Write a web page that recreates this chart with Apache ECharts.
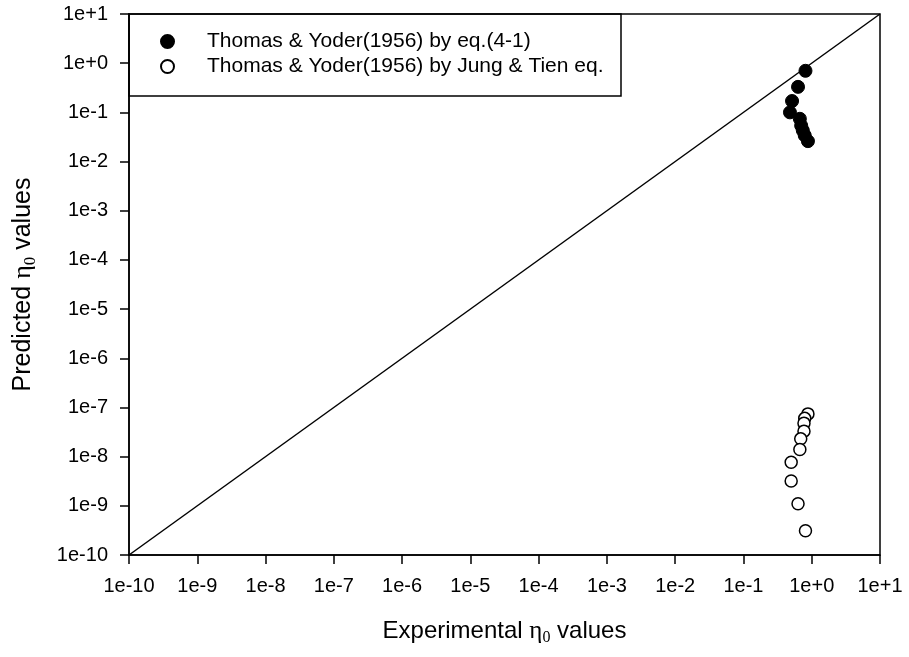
<!DOCTYPE html>
<html><head><meta charset="utf-8">
<script src="https://cdn.jsdelivr.net/npm/echarts@6/dist/echarts.min.js"></script>
<style>html,body{margin:0;padding:0;background:#fff}#c{width:909px;height:657px}</style>
</head><body><div id="c"></div>
<script>
const seriesNames = ['Thomas & Yoder(1956) by eq.(4-1)', 'Thomas & Yoder(1956) by Jung & Tien eq.'];
const eqExp = [0.81, 0.63, 0.515, 0.48, 0.67, 0.70, 0.74, 0.79, 0.88];
const eqPred = [0.70, 0.33, 0.17, 0.10, 0.074, 0.054, 0.043, 0.034, 0.026];
const jtExp = [0.88, 0.79, 0.77, 0.77, 0.69, 0.67, 0.50, 0.50, 0.63, 0.81];
const jtPred = [7.4e-8, 6.0e-8, 4.8e-8, 3.3e-8, 2.3e-8, 1.4e-8, 7.7e-9, 3.2e-9, 1.1e-9, 3.1e-10];
const lineXY = [1e-10, 10];

const fmt = v => { const e = Math.round(Math.log10(v)); return '1e' + (e >= 0 ? '+' : '') + e; };
const zip = (a, b) => a.map((x, i) => [x, b[i]]);
const font = 'Liberation Sans, Arial, sans-serif';
const serif = 'Liberation Serif, Times New Roman, serif';
const chart = echarts.init(document.getElementById('c'));
const axisCommon = {
  type: 'log', logBase: 10, min: 1e-10, max: 10, interval: 1,
  axisLine: { show: true, lineStyle: { color: '#000', width: 1.5 } },
  axisTick: { show: true, inside: false, length: 9, lineStyle: { color: '#000', width: 1.5 } },
  splitLine: { show: false }, minorTick: { show: false },
  axisLabel: { formatter: fmt, color: '#000', fontSize: 20, fontFamily: font },
  nameLocation: 'middle'
};
const mkRich = (fs) => ({
  a: { fontSize: fs, fontFamily: font, color: '#000' },
  g: { fontSize: fs + 1, fontFamily: serif, color: '#000' },
  s: { fontSize: Math.round(fs * 0.66), fontFamily: serif, color: '#000', padding: [Math.round(fs * 0.55), 0, 0, 0] }
});
chart.setOption({
  animation: false,
  grid: { left: 129, right: 29, top: 14, bottom: 102, show: true, borderColor: '#000', borderWidth: 1.5, backgroundColor: 'transparent' },
  xAxis: Object.assign({}, axisCommon, {
    axisLabel: Object.assign({}, axisCommon.axisLabel, { margin: 21 }),
    name: '{a|Experimental }{g|η}{s|0}{a| values}', nameGap: 62,
    nameTextStyle: { rich: mkRich(24) }
  }),
  yAxis: Object.assign({}, axisCommon, {
    axisLabel: Object.assign({}, axisCommon.axisLabel, { margin: 21 }),
    name: '{a|Predicted }{g|η}{s|0}{a| values}', nameGap: 90, nameRotate: 90,
    nameTextStyle: { rich: mkRich(25) }
  }),
  legend: {
    left: 160, top: 31, orient: 'vertical', padding: 0, itemGap: 4, itemWidth: 13, itemHeight: 13,
    textStyle: { fontSize: 21, fontFamily: font, color: '#000', padding: [0, 0, 0, 28] },
    data: seriesNames.map(n => ({ name: n, icon: 'circle' }))
  },
  graphic: [{ type: 'rect', shape: { x: 129, y: 14, width: 492, height: 82 }, style: { fill: 'none', stroke: '#000', lineWidth: 1.5 }, z: 100 }],
  series: [
    { type: 'line', data: zip(lineXY, lineXY), symbol: 'none', lineStyle: { color: '#000', width: 1.5 }, silent: true, z: 1 },
    { name: seriesNames[0], type: 'scatter', data: zip(eqExp, eqPred), symbol: 'circle', symbolSize: 13,
      itemStyle: { color: '#000', borderColor: '#000', borderWidth: 1, opacity: 1 }, z: 3 },
    { name: seriesNames[1], type: 'scatter', data: zip(jtExp, jtPred), symbol: 'circle', symbolSize: 12,
      itemStyle: { color: '#fff', borderColor: '#000', borderWidth: 1.5, opacity: 1 }, z: 3 }
  ]
});
</script></body></html>
